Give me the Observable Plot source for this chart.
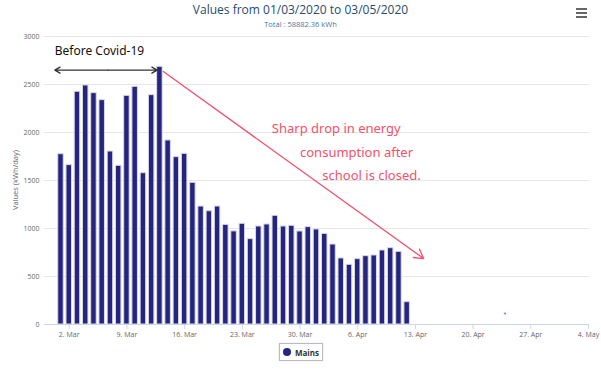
<!DOCTYPE html>
<html>
<head>
<meta charset="utf-8">
<script src="https://cdn.jsdelivr.net/npm/d3@7"></script>
<script src="https://cdn.jsdelivr.net/npm/@observablehq/plot@0.6"></script>
<style>
  html, body { margin: 0; padding: 0; background: #fff; }
  #wrap { position: relative; width: 601px; height: 377px; font-family: "Open Sans", sans-serif; }
  #title { position: absolute; top: 1px; left: 0; width: 601px; text-align: center; font-size: 12px; color: #274b6d; }
  #subtitle { position: absolute; top: 19px; left: 0; width: 601px; text-align: center; font-size: 7.5px; color: #4d759e; }
  #ylabel { position: absolute; left: 15px; top: 180px; transform: translate(-50%, -50%) rotate(-90deg); white-space: nowrap; font-size: 7.5px; color: #666; }
  #menu { position: absolute; top: 8px; left: 576px; width: 11px; }
  #menu div { height: 2px; background: #666; margin-bottom: 2px; }
  #chart { position: absolute; top: 0; left: 0; }
  #legend { position: absolute; top: 343px; left: 279px; height: 18px; width: 44px; box-sizing: border-box;
            border: 1px solid #bbb; box-shadow: 0 0 1px #ccc; font-size: 8px; font-weight: bold; color: #333;
            display: flex; align-items: center; justify-content: center; gap: 4px; }
  #legend span.dot { width: 8px; height: 8px; border-radius: 50%; background: #25257f; display: inline-block; }
  g[aria-label^="x-axis"] line, g[aria-label="x-axis tick"] path { stroke: #ccd6eb; }
</style>
</head>
<body>
<div id="wrap">
  <div id="chart"></div>
  <div id="title">Values from 01/03/2020 to 03/05/2020</div>
  <div id="subtitle">Total : 58882.36 kWh</div>
  <div id="ylabel"></div>
  <div id="menu"><div></div><div></div><div></div></div>
  <div id="legend"><span class="dot"></span><span id="legendName"></span></div>
</div>
<script>
// ---- data ----
const startDate = "2020-03-01";
const seriesName = "Mains";
const mains = [
  1774, 1660, 2424, 2490, 2410, 2337, 1802, 1653, 2382, 2476,
  1576, 2389, 2684, 1917, 1743, 1778, 1476, 1229, 1180, 1229,
  1038, 970, 1049, 889, 1021, 1042, 1132, 1021, 1028, 969,
  1014, 990, 944, 833, 688, 622, 681, 712, 719, 771,
  795, 757, 233
];
const xDomain = ["2020-02-28", "2020-05-04"];
const xTicks = ["2020-03-02", "2020-03-09", "2020-03-16", "2020-03-23", "2020-03-30",
                "2020-04-06", "2020-04-13", "2020-04-20", "2020-04-27", "2020-05-04"];
const yTicks = [0, 500, 1000, 1500, 2000, 2500, 3000];
const yLabel = "Values (kWh/day)";

// annotations (in data units)
const beforeText = ["Before Covid-19"];
const beforeTextAt = [["2020-03-05T16:00", 2850]];
const spanArrow = [["2020-03-06T17:00", "2020-02-29T06:00", 2650], ["2020-03-06T17:00", "2020-03-12T16:00", 2650]];
const dropArrow = [["2020-03-13T10:00", 2635, "2020-04-14T00:00", 687]];
const dropLines = ["Sharp drop in energy", "consumption after", "school is closed."];
const dropLineAt = [["2020-03-26T14:00", 2040], ["2020-03-30T00:00", 1790], ["2020-04-01T17:00", 1550]];
const strayDot = [["2020-04-23T21:00", 115]];

// ---- build ----
const parse = s => new Date(s.length === 10 ? s + "T00:00:00Z" : s + ":00Z");
const start = parse(startDate);
const table = mains.map((v, i) => ({ date: d3.utcDay.offset(start, i), value: v }));
const fmt = d3.utcFormat("%-d. %b");
const red = "#f5506a";
const hand = "'Comic Sans MS', 'Noto Sans', cursive";

document.getElementById("ylabel").textContent = yLabel;
document.getElementById("legendName").textContent = seriesName;

const plot = Plot.plot({
  width: 601,
  height: 345,
  marginTop: 36,
  marginBottom: 21,
  marginLeft: 44,
  marginRight: 13,
  style: { fontFamily: "'Open Sans', sans-serif", fontSize: "7px", color: "#666", background: "transparent", overflow: "visible" },
  x: { type: "utc", domain: xDomain.map(parse), ticks: xTicks.map(parse), tickFormat: fmt, tickSize: 5, tickPadding: 3, label: null },
  y: { domain: [0, 3000], ticks: yTicks, tickFormat: d => String(d), tickSize: 0, tickPadding: 5, label: null },
  marks: [
    Plot.ruleY(yTicks.filter(t => t > 0), { stroke: "#e6e6e6", strokeWidth: 1 }),
    Plot.rectY(table, {
      x1: d => d3.utcHour.offset(d.date, -8),
      x2: d => d3.utcHour.offset(d.date, 8),
      y: "value",
      fill: "#25257f",
      stroke: "#d8d8e2",
      strokeWidth: 1
    }),
    Plot.ruleY([0], { stroke: "#ccd6eb" }),
    Plot.arrow(spanArrow, {
      x1: d => parse(d[0]), x2: d => parse(d[1]), y1: d => d[2], y2: d => d[2],
      stroke: "#333", strokeWidth: 1.3, headLength: 7
    }),
    Plot.text(beforeText, {
      x: (d, i) => parse(beforeTextAt[i][0]), y: (d, i) => beforeTextAt[i][1], text: d => d,
      fontFamily: hand, fontSize: 12, fill: "#111", textAnchor: "middle"
    }),
    Plot.arrow(dropArrow, {
      x1: d => parse(d[0]), y1: d => d[1], x2: d => parse(d[2]), y2: d => d[3],
      stroke: red, strokeWidth: 1.3, headLength: 12
    }),
    Plot.text(dropLines, {
      x: (d, i) => parse(dropLineAt[i][0]), y: (d, i) => dropLineAt[i][1], text: d => d,
      fontFamily: hand, fontSize: 13, fill: red, textAnchor: "start"
    }),
    Plot.dot(strayDot, { x: d => parse(d[0]), y: d => d[1], r: 1, fill: red })
  ]
});
document.getElementById("chart").appendChild(plot);
</script>
</body>
</html>
